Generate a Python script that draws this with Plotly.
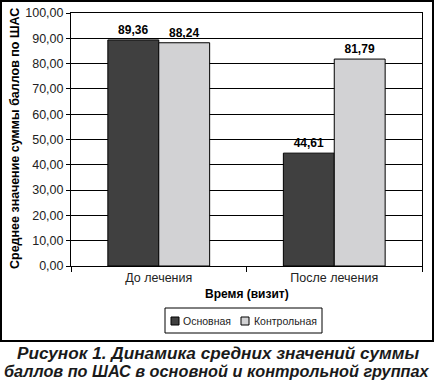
import plotly.graph_objects as go

categories = ["До лечения", "После лечения"]
series_names = ["Основная", "Контрольная"]
series_colors = ["#404040", "#d2d2d4"]
main_values = [89.36, 44.61]
control_values = [88.24, 81.79]
value_labels_main = ["89,36", "44,61"]
value_labels_control = ["88,24", "81,79"]
y_ticks = [0, 10, 20, 30, 40, 50, 60, 70, 80, 90, 100]

FONT = "Liberation Sans, Arial, sans-serif"
W, H = 435, 380
L, R, T, B = 71, 13, 13, 114
PW = W - L - R
PH = H - T - B


def px(x):
    return (x - L) / PW


def py(y):
    return (H - B - y) / PH


fig = go.Figure()
fig.add_trace(go.Bar(
    x=categories, y=main_values, name=series_names[0],
    marker=dict(color=series_colors[0], line=dict(color="black", width=1)),
    text=value_labels_main, textposition="outside",
    textfont=dict(family=FONT, size=12, color="black", weight="bold"),
    cliponaxis=False,
))
fig.add_trace(go.Bar(
    x=categories, y=control_values, name=series_names[1],
    marker=dict(color=series_colors[1], line=dict(color="black", width=1)),
    text=value_labels_control, textposition="outside",
    textfont=dict(family=FONT, size=12, color="black", weight="bold"),
    cliponaxis=False,
))

shapes = [
    # outer frame
    dict(type="rect", xref="paper", yref="paper",
         x0=px(1), x1=px(433), y0=py(341), y1=py(1),
         line=dict(color="black", width=2), fillcolor="rgba(0,0,0,0)"),
    # legend box
    dict(type="rect", xref="paper", yref="paper",
         x0=px(165), x1=px(322), y0=py(333), y1=py(308),
         line=dict(color="black", width=1), fillcolor="white"),
    # legend swatches
    dict(type="rect", xref="paper", yref="paper",
         x0=px(171), x1=px(179), y0=py(325), y1=py(317),
         line=dict(color="black", width=1), fillcolor=series_colors[0]),
    dict(type="rect", xref="paper", yref="paper",
         x0=px(241), x1=px(249), y0=py(325), y1=py(317),
         line=dict(color="black", width=1), fillcolor=series_colors[1]),
]

legend_font = dict(family=FONT, size=10.5, color="#222")
cap1_font = dict(family=FONT, size=17.2, color="#1a1a1a", weight="bold", style="italic")
cap2_font = dict(family=FONT, size=16.3, color="#1a1a1a", weight="bold", style="italic")

annotations = [
    dict(text=series_names[0], xref="paper", yref="paper",
         x=px(181), y=py(321), xanchor="left", yanchor="middle",
         showarrow=False, font=legend_font),
    dict(text=series_names[1], xref="paper", yref="paper",
         x=px(252), y=py(321), xanchor="left", yanchor="middle",
         showarrow=False, font=legend_font),
    dict(text="Время (визит)", xref="paper", yref="paper",
         x=px(247), y=py(294), xanchor="center", yanchor="middle",
         showarrow=False, font=dict(family=FONT, size=12, color="black", weight="bold")),
    dict(text="Среднее значение суммы баллов по ШАС", xref="paper", yref="paper",
         x=px(15), y=py(139), xanchor="center", yanchor="middle", textangle=-90,
         showarrow=False, font=dict(family=FONT, size=12.5, color="black", weight="bold")),
    dict(text="Рисунок 1. Динамика средних значений суммы", xref="paper", yref="paper",
         x=px(218), y=py(353), xanchor="center", yanchor="middle",
         showarrow=False, font=cap1_font),
    dict(text="баллов по ШАС в основной и контрольной группах", xref="paper", yref="paper",
         x=px(217), y=py(371), xanchor="center", yanchor="middle",
         showarrow=False, font=cap2_font),
]

fig.update_layout(
    width=W, height=H,
    margin=dict(l=L, r=R, t=T, b=B, pad=0, autoexpand=False),
    paper_bgcolor="white", plot_bgcolor="white",
    separators=", ",
    barmode="group", bargap=0.42, bargroupgap=0,
    font=dict(family=FONT, size=12, color="black"),
    showlegend=False,
    xaxis=dict(
        showline=True, linecolor="black", linewidth=1, mirror=True,
        ticks="outside", tickson="boundaries", ticklen=5, tickcolor="black",
        tickfont=dict(family=FONT, size=12.5, color="#222"),
        showgrid=False,
    ),
    yaxis=dict(
        range=[0, 100], tickvals=y_ticks, tickformat=".2f",
        showline=True, linecolor="black", linewidth=1, mirror=True,
        ticks="outside", ticklen=4, tickcolor="black",
        tickfont=dict(family=FONT, size=12.5, color="#222"),
        showgrid=True, gridcolor="black", gridwidth=1,
        zeroline=False,
    ),
    shapes=shapes,
    annotations=annotations,
)

fig.write_html(
    "out.html",
    config={"displayModeBar": False},
    post_script="document.body.style.margin='0';document.body.style.overflow='hidden';",
)
